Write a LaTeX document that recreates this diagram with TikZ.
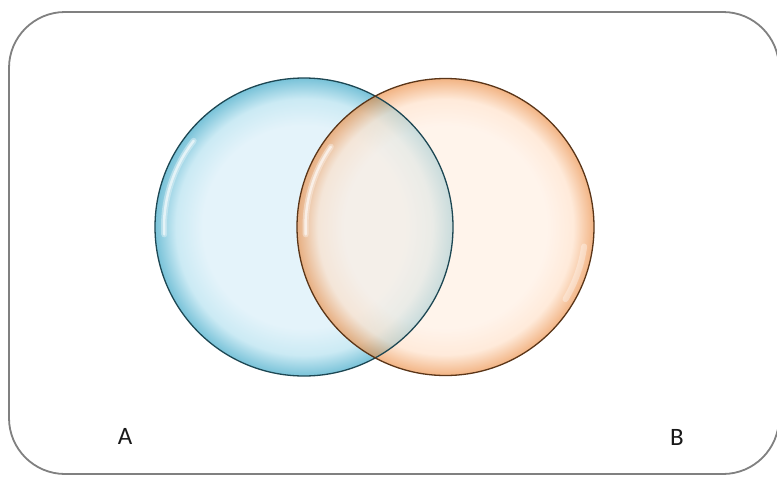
\documentclass[tikz,border=0pt]{standalone}
\usepackage{fontspec}
\setmainfont{Carlito}
\definecolor{framegray}{HTML}{808080}
\definecolor{bluein}{HTML}{E4F3FA}
\definecolor{bluemid}{HTML}{CBEAF4}
\definecolor{blueedge}{HTML}{78C2D8}
\definecolor{blueline}{HTML}{1D4753}
\definecolor{orin}{HTML}{FFEDDF}
\definecolor{ormid}{HTML}{FFDDC2}
\definecolor{oredge}{HTML}{EA8232}
\definecolor{orline}{HTML}{5A3518}
\pgfdeclareradialshading{blueglass}{\pgfpoint{0bp}{0bp}}{color(0bp)=(bluein); color(17bp)=(bluein); color(21.5bp)=(bluemid); color(25bp)=(blueedge); color(50bp)=(blueedge)}
\pgfdeclareradialshading{orglass}{\pgfpoint{0bp}{0bp}}{color(0bp)=(orin); color(17bp)=(orin); color(21.5bp)=(ormid); color(25bp)=(oredge); color(50bp)=(oredge)}
\tikzset{
  frame/.style={draw=framegray, line width=1.8pt, rounded corners=56pt},
  setline/.style={line width=1.3pt},
  glow/.style={white, line width=6pt, opacity=0.35, line cap=round},
  highlight/.style={white, line width=2.5pt, opacity=0.6, line cap=round},
  setlabel/.style={font=\fontsize{25}{27}\selectfont, text=black!90, inner sep=0pt}
}
\begin{document}
\begin{tikzpicture}[x=1pt,y=-1pt]
\useasboundingbox (0,0) rectangle (777,477);
\clip (0,0) rectangle (777,477);
\fill[white] (0,0) rectangle (777,477);
\draw[frame] (9,12) rectangle (779,474);
\coordinate (ca) at (304,227);
\coordinate (cb) at (445.5,227);
% left set
\shade[shading=blueglass] (ca) circle[radius=149];
\draw[glow] ([shift={(ca)}]177:140) arc[start angle=177, end angle=218, radius=140];
\draw[highlight] ([shift={(ca)}]177:140) arc[start angle=177, end angle=218, radius=140];
% right set
\shade[shading=orglass, fill opacity=0.6] (cb) circle[radius=148.5];
\draw[glow] ([shift={(cb)}]177:140) arc[start angle=177, end angle=215, radius=140];
\draw[highlight] ([shift={(cb)}]177:140) arc[start angle=177, end angle=215, radius=140];
\draw[glow] ([shift={(cb)}]8:140) arc[start angle=8, end angle=31, radius=140];
\draw[setline, draw=blueline] (ca) circle[radius=149];
\draw[setline, draw=orline] (cb) circle[radius=148.5];
\node[setlabel] (la) at (125,436) {A};
\node[setlabel] (lb) at (677,437) {B};
\end{tikzpicture}
\end{document}
